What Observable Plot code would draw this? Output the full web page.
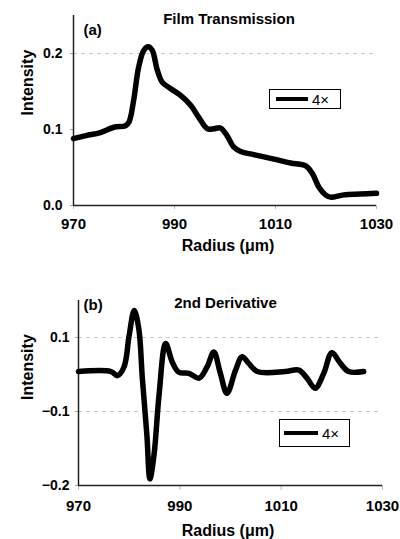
<!DOCTYPE html>
<html>
<head>
<meta charset="utf-8">
<script src="https://cdn.jsdelivr.net/npm/d3@7"></script>
<script src="https://cdn.jsdelivr.net/npm/@observablehq/plot@0.6"></script>
<style>
  body { margin: 0; background: #fff; }
  #wrap { position: relative; width: 400px; height: 539px; font-family: "Liberation Sans", Arial, sans-serif; }
  #wrap svg { display: block; font-family: "Liberation Sans", Arial, sans-serif; }
  .legend { position: absolute; border: 1px solid #000; background: #fff; box-sizing: border-box; display: flex; align-items: center; }
  .legend .sw { display: inline-block; background: #000; }
  .legend .lt { font-size: 15px; color: #000; margin-left: 4px; }
</style>
</head>
<body>
<div id="wrap"></div>
<script>
// ---- Data: panel (a) Film Transmission ----
const radiusA = [970, 972.5, 975.3, 978, 980.3, 981, 981.9, 982.9, 983.9, 984.8, 985.6, 986.6, 987.6, 989.2, 991.2, 993.2, 994.8, 996.5, 997.8, 999.1, 1000.4, 1001.7, 1003.1, 1005.7, 1009.7, 1013, 1016, 1017.3, 1018.6, 1019.9, 1020.9, 1023.5, 1026.8, 1030];
const intensityA = [0.088, 0.092, 0.096, 0.103, 0.105, 0.110, 0.138, 0.182, 0.204, 0.209, 0.204, 0.178, 0.162, 0.154, 0.145, 0.132, 0.116, 0.101, 0.101, 0.102, 0.092, 0.077, 0.071, 0.067, 0.061, 0.056, 0.052, 0.042, 0.024, 0.014, 0.011, 0.014, 0.015, 0.016];

// ---- Data: panel (b) 2nd Derivative ----
const radiusB = [970, 976.4, 977.7, 979.0, 980.0, 981.0, 981.9, 982.6, 983.5, 984.1, 984.9, 985.9, 987.2, 988.5, 989.8, 991.8, 993.8, 995.4, 996.7, 998.0, 999.3, 1001.0, 1002.3, 1003.6, 1005.3, 1010.8, 1013.5, 1015.1, 1016.7, 1018.4, 1020.0, 1021.7, 1023.3, 1026.3];
const intensityB = [0.008, 0.008, -0.003, 0.021, 0.106, 0.173, 0.124, -0.010, -0.132, -0.191, -0.159, -0.055, 0.084, 0.034, 0.006, 0.003, -0.010, 0.021, 0.061, 0.003, -0.051, 0.012, 0.048, 0.030, 0.008, 0.008, 0.012, -0.010, -0.037, 0.003, 0.059, 0.030, 0.008, 0.008];

// ---- Axis ticks / labels ----
const xTicks = [970, 990, 1010, 1030];
const yTicksA = [0, 0.1, 0.2];
const gridA = [0.2];
const yTicksB = [0.1, -0.1, -0.2];   // the original axis labels are evenly spaced
const gridB = [0.1, -0.1];
const legendLabel = "4×";
const titleA = "Film Transmission";
const titleB = "2nd Derivative";
const panelA = "(a)";
const panelB = "(b)";
const xLabel = "Radius (μm)";
const yLabel = "Intensity";

// Panel (b)'s printed axis places 0.1, –0.1 and –0.2 at equal spacing,
// so values are placed on a piecewise-linear axis through those labels.
const warpB = d3.scaleLinear().domain([-0.2, -0.1, 0.1]).range([0, 1, 2]);
const identity = d => d;

const fmt = d => d3.format(".1f")(d).replace("-", "–");

function panel({rs, vs, warp, height, mt, mb, ml, mr, ydomain, yticks, grid, ybase, title, tag, tdx, tdy, pdx, pdy, tickLen, xpad, ypad, ylx, yly, xlx, xly}) {
  const data = rs.map((r, i) => ({r, v: warp(vs[i])}));
  return Plot.plot({
    width: 400, height,
    marginTop: mt, marginBottom: mb, marginLeft: ml, marginRight: mr,
    x: {domain: [970, 1030]},
    y: {domain: ydomain},
    style: {fontFamily: "Liberation Sans, Arial, sans-serif", color: "#000", background: "#fff"},
    marks: [
      Plot.gridY(grid.map(warp), {stroke: "#c8c8c8", strokeOpacity: 1, strokeDasharray: "4,4", strokeWidth: 1}),
      Plot.axisY({ticks: yticks.map(warp), tickSize: 3, stroke: "#aaa", tickPadding: ypad, tickFormat: d => fmt(warp.invert ? warp.invert(d) : d), fontSize: 14, fontWeight: "bold", fill: "#000", label: null}),
      Plot.axisX({ticks: xTicks, tickSize: tickLen, stroke: "#bbb", tickPadding: xpad, tickFormat: d => String(d), fontSize: 15, fontWeight: "bold", fill: "#000", label: null}),
      Plot.ruleX([970], {stroke: "#222", strokeWidth: 1.5}),
      Plot.ruleY([warp(ybase)], {stroke: "#222", strokeWidth: 1.5}),
      Plot.line(data, {x: "r", y: "v", stroke: "#000", strokeWidth: 5.5, curve: "catmull-rom", strokeLinejoin: "round", strokeLinecap: "round"}),
      Plot.text([title], {frameAnchor: "top", lineAnchor: "middle", dx: tdx, dy: tdy, fontSize: 15, fontWeight: "bold", fill: "#000"}),
      Plot.text([tag], {frameAnchor: "top-left", lineAnchor: "middle", textAnchor: "start", dx: pdx, dy: pdy, fontSize: 15, fontWeight: "bold", fill: "#000"}),
      Plot.text([yLabel], {frameAnchor: "left", lineAnchor: "middle", rotate: -90, dx: ylx, dy: yly, fontSize: 16, fontWeight: "bold", fill: "#000"}),
      Plot.text([xLabel], {frameAnchor: "bottom", lineAnchor: "middle", dx: xlx, dy: xly, fontSize: 16, fontWeight: "bold", fill: "#000"})
    ]
  });
}

const wrap = document.getElementById("wrap");

const p1 = panel({rs: radiusA, vs: intensityA, warp: identity, height: 262, mt: 15, mb: 57, ml: 73, mr: 24,
  ydomain: [0, 0.25], yticks: yTicksA, grid: gridA, ybase: 0, title: titleA, tag: panelA,
  tdx: 4, tdy: 4, pdx: 10, pdy: 15, tickLen: 4, xpad: 8.5, ypad: 8,
  ylx: -46, yly: 5, xlx: 3, xly: 40});
wrap.appendChild(p1);

const p2 = panel({rs: radiusB, vs: intensityB, warp: warpB, height: 277, mt: 38, mb: 54, ml: 78, mr: 18,
  ydomain: [0, 2.5], yticks: yTicksB, grid: gridB, ybase: -0.2, title: titleB, tag: panelB,
  tdx: -5, tdy: 3, pdx: 5, pdy: 5, tickLen: 5, xpad: 10, ypad: 6,
  ylx: -51, yly: 7, xlx: -2.5, xly: 45});
wrap.appendChild(p2);

function legend(left, top, w, h, swW, swH, padL) {
  const d = document.createElement("div");
  d.className = "legend";
  Object.assign(d.style, {left: left + "px", top: top + "px", width: w + "px", height: h + "px", paddingLeft: padL + "px"});
  const s = document.createElement("span");
  s.className = "sw";
  Object.assign(s.style, {width: swW + "px", height: swH + "px"});
  const t = document.createElement("span");
  t.className = "lt";
  t.textContent = legendLabel;
  d.appendChild(s); d.appendChild(t);
  wrap.appendChild(d);
}
legend(269, 89, 72, 20, 32, 4, 6);
legend(279, 419, 71, 28, 34, 4, 4);
</script>
</body>
</html>
